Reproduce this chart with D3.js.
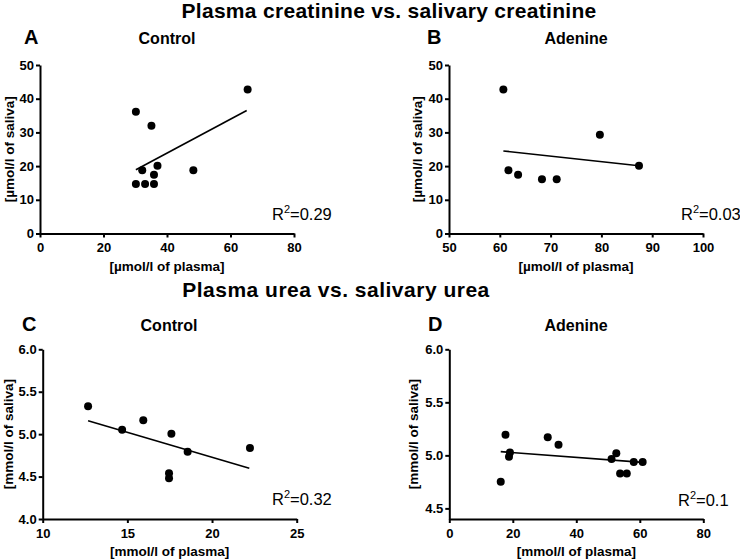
<!DOCTYPE html>
<html>
<head>
<meta charset="utf-8">
<script src="https://cdn.jsdelivr.net/npm/d3@7"></script>
<style>
  html, body { margin: 0; padding: 0; background: #fff; }
  svg { display: block; font-family: "Liberation Sans", Arial, Helvetica, sans-serif; }
</style>
</head>
<body>
<svg id="chart" width="740" height="559"></svg>
<script>
// ---------- DATA ----------
const panelLetters = ["A", "B", "C", "D"];
const panelTitles = ["Control", "Adenine", "Control", "Adenine"];
const sectionTitles = ["Plasma creatinine vs. salivary creatinine", "Plasma urea vs. salivary urea"];
const xLabels = ["[µmol/l of plasma]", "[µmol/l of plasma]", "[mmol/l of plasma]", "[mmol/l of plasma]"];
const yLabels = ["[µmol/l of saliva]", "[µmol/l of saliva]", "[mmol/l of saliva]", "[mmol/l of saliva]"];
const r2Labels = ["0.29", "0.03", "0.32", "0.1"];

// Panel A: creatinine, control
const aPlasma = [30.2, 35.1, 65.4, 32.2, 37.0, 35.9, 48.3, 30.2, 33.1, 35.9];
const aSaliva = [36.1, 32.0, 42.7, 18.8, 20.1, 17.4, 18.8, 14.7, 14.7, 14.7];
const aFitX = [30.2, 65.1];
const aFitY = [18.9, 36.5];
// Panel B: creatinine, adenine
const bPlasma = [60.7, 61.7, 63.6, 68.3, 71.2, 79.7, 87.4];
const bSaliva = [42.7, 18.8, 17.4, 16.1, 16.1, 29.3, 20.1];
const bFitX = [60.7, 87.4];
const bFitY = [24.5, 20.1];
// Panel C: urea, control
const cPlasma = [12.68, 14.69, 15.94, 17.6, 17.46, 17.46, 18.56, 22.24];
const cSaliva = [5.328, 5.053, 5.163, 5.006, 4.538, 4.479, 4.794, 4.837];
const cFitX = [12.68, 22.2];
const cFitY = [5.159, 4.597];
// Panel D: urea, adenine
const dPlasma = [16.2, 17.7, 19.1, 18.8, 31.0, 34.4, 51.1, 52.6, 53.8, 55.9, 58.1, 60.9];
const dSaliva = [4.752, 5.195, 5.028, 4.987, 5.170, 5.101, 4.965, 5.019, 4.830, 4.830, 4.937, 4.937];
const dFitX = [16.2, 60.9];
const dFitY = [5.035, 4.934];

// Axis domains and ticks
const xDomains = [[0, 80], [50, 100], [10, 25], [0, 80]];
const yDomains = [[0, 50], [0, 50], [4.0, 6.0], [4.4, 6.0]];
const xTicks = [[0, 20, 40, 60, 80], [50, 60, 70, 80, 90, 100], [10, 15, 20, 25], [0, 20, 40, 60, 80]];
const yTicks = [[0, 10, 20, 30, 40, 50], [0, 10, 20, 30, 40, 50], [4.0, 4.5, 5.0, 5.5, 6.0], [4.5, 5.0, 5.5, 6.0]];
const yTickFormats = ["d", "d", ".1f", ".1f"];

// ---------- LAYOUT ----------
const panels = [
  { x0: 40,    x1: 294,   yTop: 65,    yBot: 233.5, px: aPlasma, py: aSaliva, fx: aFitX, fy: aFitY,
    letterX: 24, titleX: 167, headY: 44, yLabX: 9,   r2X: 272, r2Y: 220 },
  { x0: 449,   x1: 703,   yTop: 65,    yBot: 233.5, px: bPlasma, py: bSaliva, fx: bFitX, fy: bFitY,
    letterX: 427, titleX: 576, headY: 44, yLabX: 417, r2X: 681, r2Y: 220 },
  { x0: 42.7,  x1: 296.7, yTop: 349.3, yBot: 519,   px: cPlasma, py: cSaliva, fx: cFitX, fy: cFitY,
    letterX: 22, titleX: 169, headY: 331, yLabX: 8,  r2X: 272, r2Y: 505 },
  { x0: 449.3, x1: 703.3, yTop: 349.3, yBot: 519,   px: dPlasma, py: dSaliva, fx: dFitX, fy: dFitY,
    letterX: 428, titleX: 576, headY: 331, yLabX: 413, r2X: 678, r2Y: 506 }
];

const svg = d3.select("#chart");
svg.append("rect").attr("width", 740).attr("height", 559).attr("fill", "#fff");

// Section titles
svg.append("text").attr("x", 389).attr("y", 18).attr("text-anchor", "middle")
  .attr("font-size", 21).attr("letter-spacing", 0.3).attr("font-weight", "bold").text(sectionTitles[0]);
svg.append("text").attr("x", 336).attr("y", 297).attr("text-anchor", "middle")
  .attr("font-size", 21).attr("letter-spacing", 0.5).attr("font-weight", "bold").text(sectionTitles[1]);

panels.forEach((p, i) => {
  const x = d3.scaleLinear().domain(xDomains[i]).range([p.x0, p.x1]);
  const y = d3.scaleLinear().domain(yDomains[i]).range([p.yBot, p.yTop]);
  const g = svg.append("g");

  // panel letter and title
  g.append("text").attr("x", p.letterX).attr("y", p.headY)
    .attr("font-size", 20).attr("font-weight", "bold").text(panelLetters[i]);
  g.append("text").attr("x", p.titleX).attr("y", p.headY).attr("text-anchor", "middle")
    .attr("font-size", 16).attr("font-weight", "bold").text(panelTitles[i]);

  // axes
  const xAxis = d3.axisBottom(x).tickValues(xTicks[i]).tickSize(4).tickSizeOuter(0).tickPadding(5.5)
    .tickFormat(d3.format("d"));
  const yAxis = d3.axisLeft(y).tickValues(yTicks[i]).tickSize(4).tickSizeOuter(0).tickPadding(2)
    .tickFormat(d3.format(yTickFormats[i]));

  const gx = g.append("g").attr("transform", `translate(0,${p.yBot})`).call(xAxis);
  const gy = g.append("g").attr("transform", `translate(${p.x0},0)`).call(yAxis);
  [gx, gy].forEach(ax => {
    ax.select(".domain").attr("stroke", "#000").attr("stroke-width", 2);
    ax.selectAll(".tick line").attr("stroke", "#000").attr("stroke-width", 2);
    ax.selectAll(".tick text").attr("fill", "#000").attr("font-size", 13).attr("font-weight", "bold")
      .attr("font-family", "Liberation Sans, Arial, sans-serif");
  });

  // axis labels
  g.append("text").attr("x", (p.x0 + p.x1) / 2).attr("y", p.yBot + 37).attr("text-anchor", "middle")
    .attr("font-size", 13.5).attr("font-weight", "bold").text(xLabels[i]);
  g.append("text")
    .attr("transform", `translate(${p.yLabX + 5},${(p.yTop + p.yBot) / 2}) rotate(-90)`)
    .attr("text-anchor", "middle").attr("font-size", 13.5).attr("font-weight", "bold").text(yLabels[i]);

  // regression line
  g.append("line")
    .attr("x1", x(p.fx[0])).attr("y1", y(p.fy[0]))
    .attr("x2", x(p.fx[1])).attr("y2", y(p.fy[1]))
    .attr("stroke", "#000").attr("stroke-width", 1.6);

  // points
  g.selectAll("circle.pt").data(p.px.map((v, k) => [v, p.py[k]])).enter()
    .append("circle").attr("class", "pt")
    .attr("cx", d => x(d[0])).attr("cy", d => y(d[1])).attr("r", 4).attr("fill", "#000");

  // R² annotation
  const t = g.append("text").attr("x", p.r2X).attr("y", p.r2Y).attr("font-size", 16.5);
  t.append("tspan").text("R");
  t.append("tspan").attr("font-size", 11).attr("dy", -7).text("2");
  t.append("tspan").attr("dy", 7).text("=" + r2Labels[i]);
});
</script>
</body>
</html>
